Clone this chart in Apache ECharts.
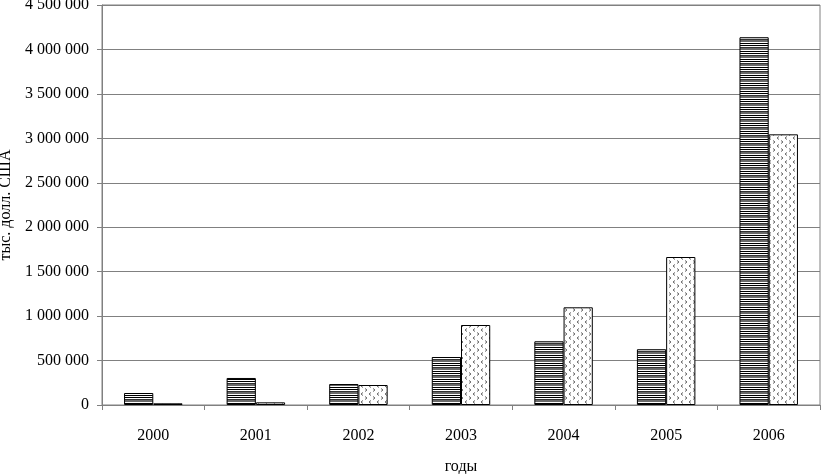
<!DOCTYPE html>
<html><head><meta charset="utf-8">
<script src="https://cdn.jsdelivr.net/npm/echarts@6/dist/echarts.min.js"></script>
<style>html,body{margin:0;padding:0;background:#fff}#c{width:821px;height:474px}</style>
</head><body><div id="c"></div>
<script>
var categories = ['2000','2001','2002','2003','2004','2005','2006'];
var seriesA = [135000, 304000, 236000, 540000, 716000, 627000, 4137000];
var seriesB = [19000, 30000, 225000, 900000, 1099000, 1665000, 3045000];
var yTicks = [0, 500000, 1000000, 1500000, 2000000, 2500000, 3000000, 3500000, 4000000, 4500000];

function stripePattern(){
  var c = document.createElement('canvas'); c.width = 4; c.height = 8;
  var g = c.getContext('2d');
  g.fillStyle = '#fff'; g.fillRect(0,0,4,8);
  g.fillStyle = '#6a6a6a'; g.fillRect(0,0,4,2);
  g.fillStyle = '#000'; g.fillRect(0,3,4,1); g.fillRect(0,5,4,1);
  g.fillStyle = '#333'; g.fillRect(0,7,4,1);
  return c;
}
function dotPattern(){
  var c = document.createElement('canvas'); c.width = 8; c.height = 8;
  var g = c.getContext('2d');
  g.fillStyle = '#fff'; g.fillRect(0,0,8,8);
  g.strokeStyle = '#666'; g.lineWidth = 1;
  g.beginPath(); g.moveTo(3,0.5); g.lineTo(1,2); g.lineTo(3,3.5); g.stroke();
  g.beginPath(); g.moveTo(5,4.5); g.lineTo(7,6); g.lineTo(5,7.5); g.stroke();
  return c;
}
function fmt(v){ return String(v).replace(/\B(?=(\d{3})+(?!\d))/g, ' '); }

var chart = echarts.init(document.getElementById('c'));
var font = 'Liberation Serif';
chart.setOption({
  animation: false,
  backgroundColor: '#fff',
  grid: {left: 102, right: 1, top: 5, bottom: 69, outerBoundsMode: 'none', containLabel: false,
         show: true, borderColor: '#808080', borderWidth: 1, backgroundColor: 'transparent'},
  xAxis: {
    type: 'category', data: categories,
    name: 'годы', nameLocation: 'middle', nameGap: 54,
    nameTextStyle: {fontFamily: font, fontSize: 16, color: '#000'},
    axisLine: {lineStyle: {color: '#808080'}},
    axisTick: {show: true, length: 5, lineStyle: {color: '#808080'}},
    axisLabel: {fontFamily: font, fontSize: 16, color: '#000', margin: 23}
  },
  yAxis: {
    type: 'value', min: 0, max: 4500000, interval: 500000,
    name: 'тыс. долл. США', nameLocation: 'middle', nameGap: 82,
    nameTextStyle: {fontFamily: font, fontSize: 16, color: '#000'},
    axisLine: {show: true, lineStyle: {color: '#808080'}},
    axisTick: {show: true, length: 5, inside: false, lineStyle: {color: '#808080'}},
    splitLine: {lineStyle: {color: '#808080'}},
    axisLabel: {fontFamily: font, fontSize: 16, color: '#000', margin: 13,
      formatter: function(v){ return yTicks.indexOf(v) >= 0 ? fmt(v) : ''; }}
  },
  series: [
    {type: 'bar', data: seriesA, barWidth: '28.5%', barGap: '0%', barCategoryGap: '43%',
     itemStyle: {color: {image: stripePattern(), repeat: 'repeat'}, borderColor: '#000', borderWidth: 1}},
    {type: 'bar', data: seriesB, barWidth: '28.5%',
     itemStyle: {color: {image: dotPattern(), repeat: 'repeat'}, borderColor: '#000', borderWidth: 1}}
  ]
});
</script></body></html>
